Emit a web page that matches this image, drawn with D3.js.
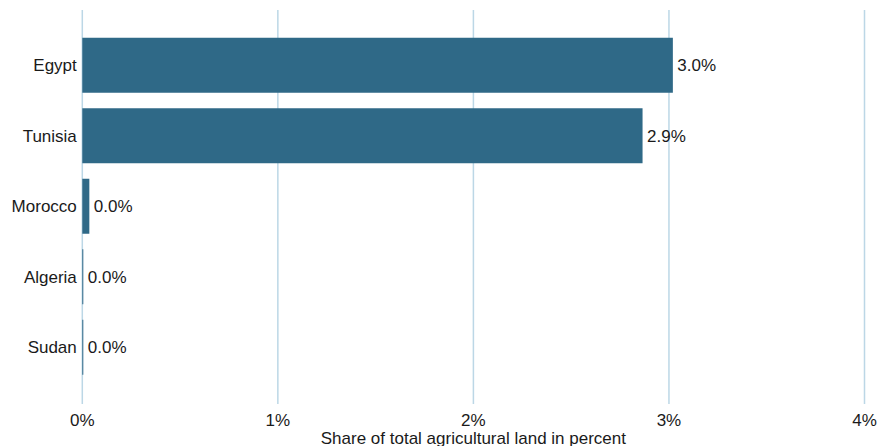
<!DOCTYPE html>
<html>
<head>
<meta charset="utf-8">
<script src="https://cdn.jsdelivr.net/npm/d3@7"></script>
<style>
  html, body { margin: 0; padding: 0; background: #ffffff; }
  svg { display: block; }
  text { font-family: "Liberation Sans", Arial, Helvetica, sans-serif; fill: #1a1a1a; }
</style>
</head>
<body>
<svg id="chart" width="878" height="446"></svg>
<script>
const countries = ["Egypt", "Tunisia", "Morocco", "Algeria", "Sudan"];
const shares = [3.02, 2.865, 0.036, 0.005, 0.004];
const valueLabels = ["3.0%", "2.9%", "0.0%", "0.0%", "0.0%"];
const tickValues = [0, 1, 2, 3, 4];
const tickLabels = ["0%", "1%", "2%", "3%", "4%"];
const axisTitle = "Share of total agricultural land in percent";

const W = 878, H = 446;
const svg = d3.select("#chart");

const x = d3.scaleLinear().domain([0, 4]).range([82.3, 864.5]);
const y = d3.scaleBand().domain(countries).range([30, 382.5])
  .paddingInner(0.22).paddingOuter(0.11);

const gridTop = 10, gridBottom = 404;

// gridlines
svg.append("g").selectAll("line").data(tickValues).join("line")
  .attr("x1", d => x(d)).attr("x2", d => x(d))
  .attr("y1", gridTop).attr("y2", gridBottom)
  .attr("stroke", "#bcd7e6").attr("stroke-width", 1.5);

// bars
const data = countries.map((c, i) => ({ c, v: shares[i], l: valueLabels[i] }));
svg.append("g").selectAll("rect").data(data).join("rect")
  .attr("x", x(0))
  .attr("y", d => y(d.c))
  .attr("width", d => Math.max(1, x(d.v) - x(0)))
  .attr("height", y.bandwidth())
  .attr("fill", "#2f6987");

// value labels
svg.append("g").selectAll("text").data(data).join("text")
  .attr("x", d => Math.max(x(d.v), x(0) + 1) + 4.5)
  .attr("y", d => y(d.c) + y.bandwidth() / 2)
  .attr("dy", "0.35em")
  .attr("font-size", 17)
  .text(d => d.l);

// category labels
svg.append("g").selectAll("text").data(countries).join("text")
  .attr("x", x(0) - 5.5)
  .attr("y", d => y(d) + y.bandwidth() / 2)
  .attr("dy", "0.35em")
  .attr("text-anchor", "end")
  .attr("font-size", 17)
  .text(d => d);

// x tick labels
svg.append("g").selectAll("text").data(tickValues).join("text")
  .attr("x", d => x(d))
  .attr("y", 425.5)
  .attr("text-anchor", "middle")
  .attr("font-size", 17)
  .text((d, i) => tickLabels[i]);

// axis title
svg.append("text")
  .attr("x", (x(0) + x(4)) / 2)
  .attr("y", 443.5)
  .attr("text-anchor", "middle")
  .attr("font-size", 17)
  .text(axisTitle);
</script>
</body>
</html>
